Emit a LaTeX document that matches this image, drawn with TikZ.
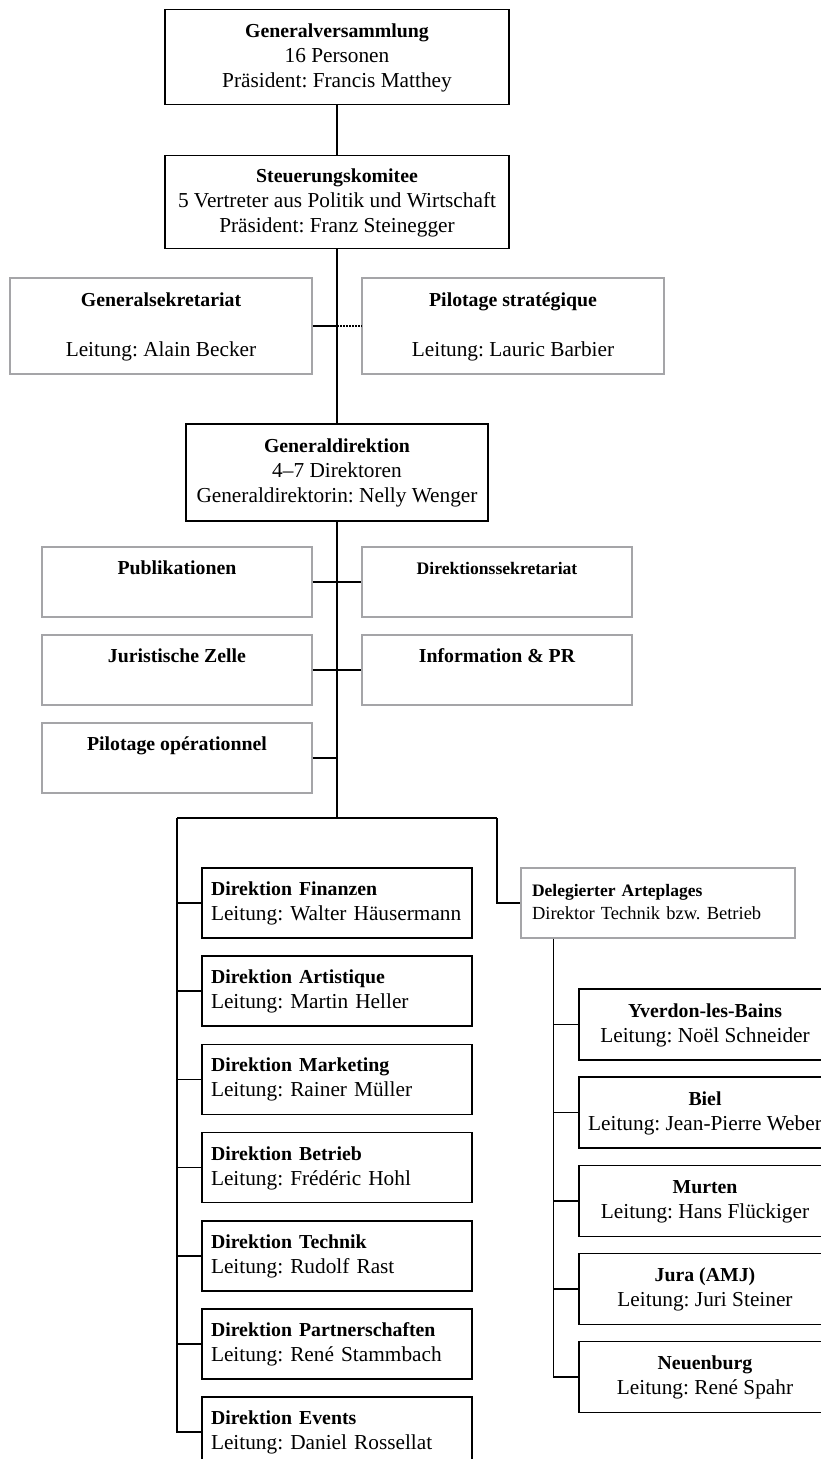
\documentclass[tikz,border=0pt]{standalone}
\usepackage{fontspec}
\setmainfont{Liberation Serif}
\usetikzlibrary{calc}

\definecolor{boxgray}{RGB}{165,165,168}

% text sizes
\newcommand\regsize{\frenchspacing\fontsize{21.3}{25}\selectfont}
\newcommand\ttl[1]{{\bfseries\fontsize{19.8}{25}\selectfont #1}}
\newcommand\sttl[1]{{\bfseries\fontsize{17.6}{25}\selectfont #1}}
\newcommand\delsize{\frenchspacing\fontsize{18.5}{23}\selectfont}
\newcommand\dttl[1]{{\bfseries\fontsize{17.5}{23}\selectfont #1}}
% two-line unit entry: bold title, then head
\newcommand\unit[2]{\ttl{#1}\strut\\#2\strut}

\tikzset{
  blackbox/.style={draw=black, line width=1.6pt, inner sep=0pt, align=center,
    font=\regsize},
  graybox/.style={draw=boxgray, line width=1.4pt, inner sep=0pt, align=center,
    font=\regsize},
  topbox/.style={blackbox, minimum width=344, minimum height=95},
  staffbox/.style={graybox, minimum width=270, minimum height=70},
  dirbox/.style={blackbox, align=left, text width=252, minimum width=270,
    minimum height=70},
  sitebox/.style={blackbox, minimum width=252, minimum height=71},
  conn/.style={draw=black, line width=1.6pt, line join=miter},
  dotconn/.style={conn, dash pattern=on 1.6pt off 1.4pt},
}

\begin{document}
\begin{tikzpicture}[x=1pt, y=-1pt]
\useasboundingbox (0,0) rectangle (820,1459);

% governing bodies
\node[topbox] (gv) at (337,57)
  {\ttl{Generalversammlung}\strut\\16 Personen\strut\\Präsident: Francis Matthey\strut};
\node[topbox, minimum height=93] (sk) at (337,202)
  {\ttl{Steuerungskomitee}\strut\\5 Vertreter aus Politik und Wirtschaft\strut\\Präsident: Franz Steinegger\strut};

% staff units of the steering committee
\node[graybox, minimum width=302, minimum height=96] (gs) at (161,326)
  {\ttl{Generalsekretariat}\strut\\[25pt]Leitung: Alain Becker\strut};
\node[graybox, minimum width=302, minimum height=96] (ps) at (513,326)
  {\ttl{Pilotage stratégique}\strut\\[25pt]Leitung: Lauric Barbier\strut};

% general management
\node[blackbox, minimum width=302, minimum height=97] (gd) at (337,472.5)
  {\ttl{Generaldirektion}\strut\\4--7 Direktoren\strut\\Generaldirektorin: Nelly Wenger\strut};

% staff units of the general management
\node[staffbox] (pub) at (177,582) {\ttl{Publikationen}\strut\\\strut};
\node[staffbox] (ds)  at (497,582) {\sttl{Direktionssekretariat}\strut\\\strut};
\node[staffbox] (jz)  at (177,670) {\ttl{Juristische Zelle}\strut\\\strut};
\node[staffbox] (ipr) at (497,670) {\ttl{Information \& PR}\strut\\\strut};
\node[staffbox] (po)  at (177,758) {\ttl{Pilotage opérationnel}\strut\\\strut};

% directorates
\node[dirbox] (fin) at (337,903)    {\unit{Direktion Finanzen}{Leitung: Walter Häusermann}};
\node[dirbox] (art) at (337,991.2)  {\unit{Direktion Artistique}{Leitung: Martin Heller}};
\node[dirbox] (mkt) at (337,1079.3) {\unit{Direktion Marketing}{Leitung: Rainer Müller}};
\node[dirbox] (bet) at (337,1167.5) {\unit{Direktion Betrieb}{Leitung: Frédéric Hohl}};
\node[dirbox] (tec) at (337,1255.7) {\unit{Direktion Technik}{Leitung: Rudolf Rast}};
\node[dirbox] (par) at (337,1343.8) {\unit{Direktion Partnerschaften}{Leitung: René Stammbach}};
\node[dirbox] (ev)  at (337,1432)   {\unit{Direktion Events}{Leitung: Daniel Rossellat}};

% arteplages
\node[graybox, align=left, font=\delsize, text width=252, minimum width=274,
  minimum height=70] (deleg) at (658,903)
  {\dttl{Delegierter Arteplages}\strut\\Direktor Technik bzw. Betrieb\strut};
\node[sitebox] (yv)  at (705,1024.5) {\unit{Yverdon-les-Bains}{Leitung: Noël Schneider}};
\node[sitebox] (bi)  at (705,1112.6) {\unit{Biel}{Leitung: Jean-Pierre Weber}};
\node[sitebox] (mu)  at (705,1200.8) {\unit{Murten}{Leitung: Hans Flückiger}};
\node[sitebox] (ju)  at (705,1288.9) {\unit{Jura (AMJ)}{Leitung: Juri Steiner}};
\node[sitebox] (neu) at (705,1377)   {\unit{Neuenburg}{Leitung: René Spahr}};

% main spine
\draw[conn] (gv) -- (sk);
\draw[conn] (sk) -- (gd);
\coordinate (gsj) at (gs.east -| sk.south);
\draw[conn] (gs.east) -- (gsj);
\draw[dotconn] (gsj) -- (ps.west);

\draw[conn] (pub) -- (ds);
\draw[conn] (jz) -- (ipr);
\draw[conn] (po.east) -- (po.east -| gd.south);

% split towards directorates and arteplages
\coordinate (split) at (337,818);
\coordinate (lb) at (177,818);
\coordinate (rb) at (497,818);
\draw[conn] (gd.south) -- (split);
\draw[conn] (lb) -- (rb);
\draw[conn] (lb) |- (ev.west);
\foreach \d in {fin,art,mkt,bet,tec,par}
  \draw[conn] (\d.west -| lb) -- (\d.west);
\draw[conn] (rb) |- (deleg.west);

\coordinate (dl) at ($(deleg.south west)+(33,0)$);
\draw[conn] (dl) |- (neu.west);
\foreach \s in {yv,bi,mu,ju}
  \draw[conn] (\s.west -| dl) -- (\s.west);
\end{tikzpicture}
\end{document}
